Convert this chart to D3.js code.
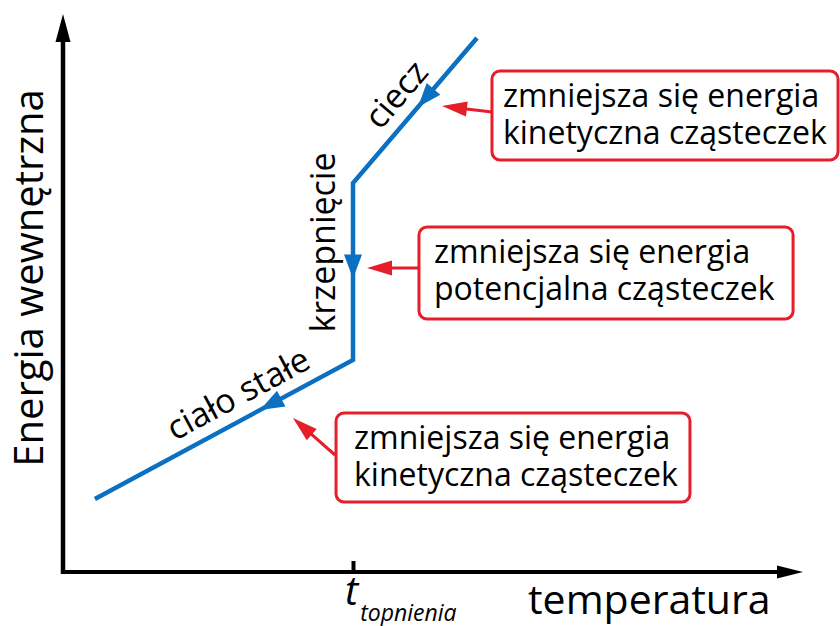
<!DOCTYPE html>
<html><head><meta charset="utf-8">
<script src="https://cdn.jsdelivr.net/npm/d3@7"></script>
<style>
html,body{margin:0;padding:0;background:#fff;}
svg{display:block;font-family:"Open Sans",sans-serif;}
</style></head>
<body><svg id="chart" width="840" height="626"></svg>
<script>
// ---- data (schematic cooling curve) ----
const temperature = [4.4, 40, 40, 57.1];       // x values of the curve vertices
const energy      = [14.6, 42.4, 77.8, 106.8];  // y values of the curve vertices
const meltTemp    = 40;                         // t_topnienia
const xTickLabels = ["t", "topnienia"];
const phaseLabels = ["ciało stałe", "krzepnięcie", "ciecz"];
const boxLines = [
  ["zmniejsza się energia", "kinetyczna cząsteczek"],
  ["zmniejsza się energia", "potencjalna cząsteczek"],
  ["zmniejsza się energia", "kinetyczna cząsteczek"]
];
// annotation boxes in data units: [t0, e0(top), t1, e1(bottom)]
const boxT0 = [59.17, 49.1, 37.66];
const boxE0 = [100.2, 69.0, 31.8];
const boxT1 = [106.9, 100.7, 86.48];
const boxE1 = [82.4, 50.6, 14.0];
// red pointer arrows in data units (from -> to)
const ptrFromT = [59.17, 49.1, 37.52];
const ptrFromE = [92.0, 60.8, 23.4];
const ptrToT   = [52.28, 41.93, 31.72];
const ptrToE   = [93.2, 60.8, 30.8];

const blue = "#0b70c2", red = "#e61e2a";
const svg = d3.select("#chart");
const x = d3.scaleLinear().domain([0, 100]).range([63, 788]);
const y = d3.scaleLinear().domain([0, 110]).range([572, 22]);

// ---- axes ----
const x0 = x(0), y0 = y(0);
svg.append("line").attr("x1", x0).attr("x2", x0).attr("y1", y0 + 2).attr("y2", 40)
  .attr("stroke", "#000").attr("stroke-width", 4.5);
svg.append("path").attr("d", `M${x0},14 L${x0-7.5},42 L${x0+7.5},42 Z`).attr("fill", "#000");
svg.append("line").attr("x1", x0 - 2).attr("x2", 778).attr("y1", y0).attr("y2", y0)
  .attr("stroke", "#000").attr("stroke-width", 4);
svg.append("path").attr("d", `M803,${y0} L777,${y0-6.5} L777,${y0+6.5} Z`).attr("fill", "#000");

const xAxis = d3.axisBottom(x).tickValues([meltTemp]).tickSizeInner(-11).tickSizeOuter(0).tickFormat("");
const gx = svg.append("g").attr("transform", `translate(0,${y0})`).call(xAxis);
gx.select(".domain").remove();
gx.selectAll(".tick line").attr("stroke", "#000").attr("stroke-width", 4);

const tl = svg.append("text").attr("x", x(meltTemp) - 8).attr("y", 605)
  .attr("font-style", "italic").attr("fill", "#000");
tl.append("tspan").attr("font-size", 40).text(xTickLabels[0]);
tl.append("tspan").attr("font-size", 23).attr("dy", 16).attr("dx", 2).text(xTickLabels[1]);

svg.append("text").attr("x", 528).attr("y", 614).attr("font-size", 41).attr("fill", "#000")
  .text("temperatura");
svg.append("text").attr("transform", "translate(43,278) rotate(-90)")
  .attr("text-anchor", "middle").attr("font-size", 40).attr("fill", "#000")
  .text("Energia wewnętrzna");

// ---- curve ----
const pts = temperature.map((t, i) => [x(t), y(energy[i])]);
svg.append("path").attr("d", d3.line()(pts)).attr("fill", "none")
  .attr("stroke", blue).attr("stroke-width", 4.5).attr("stroke-linejoin", "miter");

// direction arrows (pointing along cooling, i.e. from later vertex to earlier)
function arrowHead(tip, dir, L, W, color) {
  const [dx, dy] = dir, nx = -dy, ny = dx;
  const bx = tip[0] - dx * L, by = tip[1] - dy * L;
  return svg.append("path").attr("fill", color)
    .attr("d", `M${tip[0]},${tip[1]} L${bx + nx*W/2},${by + ny*W/2} L${bx - nx*W/2},${by - ny*W/2} Z`);
}
function unit(a, b) { const dx = b[0]-a[0], dy = b[1]-a[1], l = Math.hypot(dx, dy); return [dx/l, dy/l]; }
const segFrac = [0.36, 0.54, 0.476];
[[1, 0], [2, 1], [3, 2]].forEach(([from, to], k) => {
  const a = pts[from], b = pts[to], f = segFrac[k];
  const tip = [a[0] + (b[0]-a[0])*f, a[1] + (b[1]-a[1])*f];
  arrowHead(tip, unit(a, b), 24, 18, blue);
});

// phase labels along segments
function segLabel(a, b, frac, off, txt) {
  const d = unit(a, b), n = [d[1], -d[0]];
  const px = a[0] + (b[0]-a[0])*frac + n[0]*off, py = a[1] + (b[1]-a[1])*frac + n[1]*off;
  const ang = Math.atan2(d[1], d[0]) * 180 / Math.PI;
  svg.append("text").attr("transform", `translate(${px},${py}) rotate(${ang})`)
    .attr("text-anchor", "middle").attr("font-size", 34).attr("fill", "#000").text(txt);
}
segLabel(pts[0], pts[1], 0.6, 13, phaseLabels[0]);
segLabel(pts[2], pts[3], 0.5, 13, phaseLabels[2]);
svg.append("text")
  .attr("transform", `translate(${x(meltTemp) - 18},${(pts[1][1] + pts[2][1]) / 2 - 29}) rotate(-90)`)
  .attr("text-anchor", "middle").attr("font-size", 34).attr("fill", "#000").text(phaseLabels[1]);

// ---- annotation boxes ----
boxLines.forEach((lines, i) => {
  const bx0 = x(boxT0[i]), by0 = y(boxE0[i]), bx1 = x(boxT1[i]), by1 = y(boxE1[i]);
  svg.append("rect").attr("x", bx0).attr("y", by0).attr("width", bx1 - bx0).attr("height", by1 - by0)
    .attr("rx", 8).attr("ry", 8).attr("fill", "#fff").attr("stroke", red).attr("stroke-width", 3);
  const t = svg.append("text").attr("font-size", 32).attr("fill", "#000");
  lines.forEach((ln, j) => {
    t.append("tspan").attr("x", bx0 + (i === 0 ? 11 : (i === 1 ? 15 : 18)))
      .attr("y", by0 + 36 + j * 36.5).text(ln);
  });
  const f = [x(ptrFromT[i]), y(ptrFromE[i])], tp = [x(ptrToT[i]), y(ptrToE[i])];
  const d = unit(f, tp);
  svg.append("line").attr("x1", f[0]).attr("y1", f[1])
    .attr("x2", tp[0] - d[0]*18).attr("y2", tp[1] - d[1]*18)
    .attr("stroke", red).attr("stroke-width", 3);
  arrowHead(tp, d, 25, 15, red);
});
</script></body></html>
